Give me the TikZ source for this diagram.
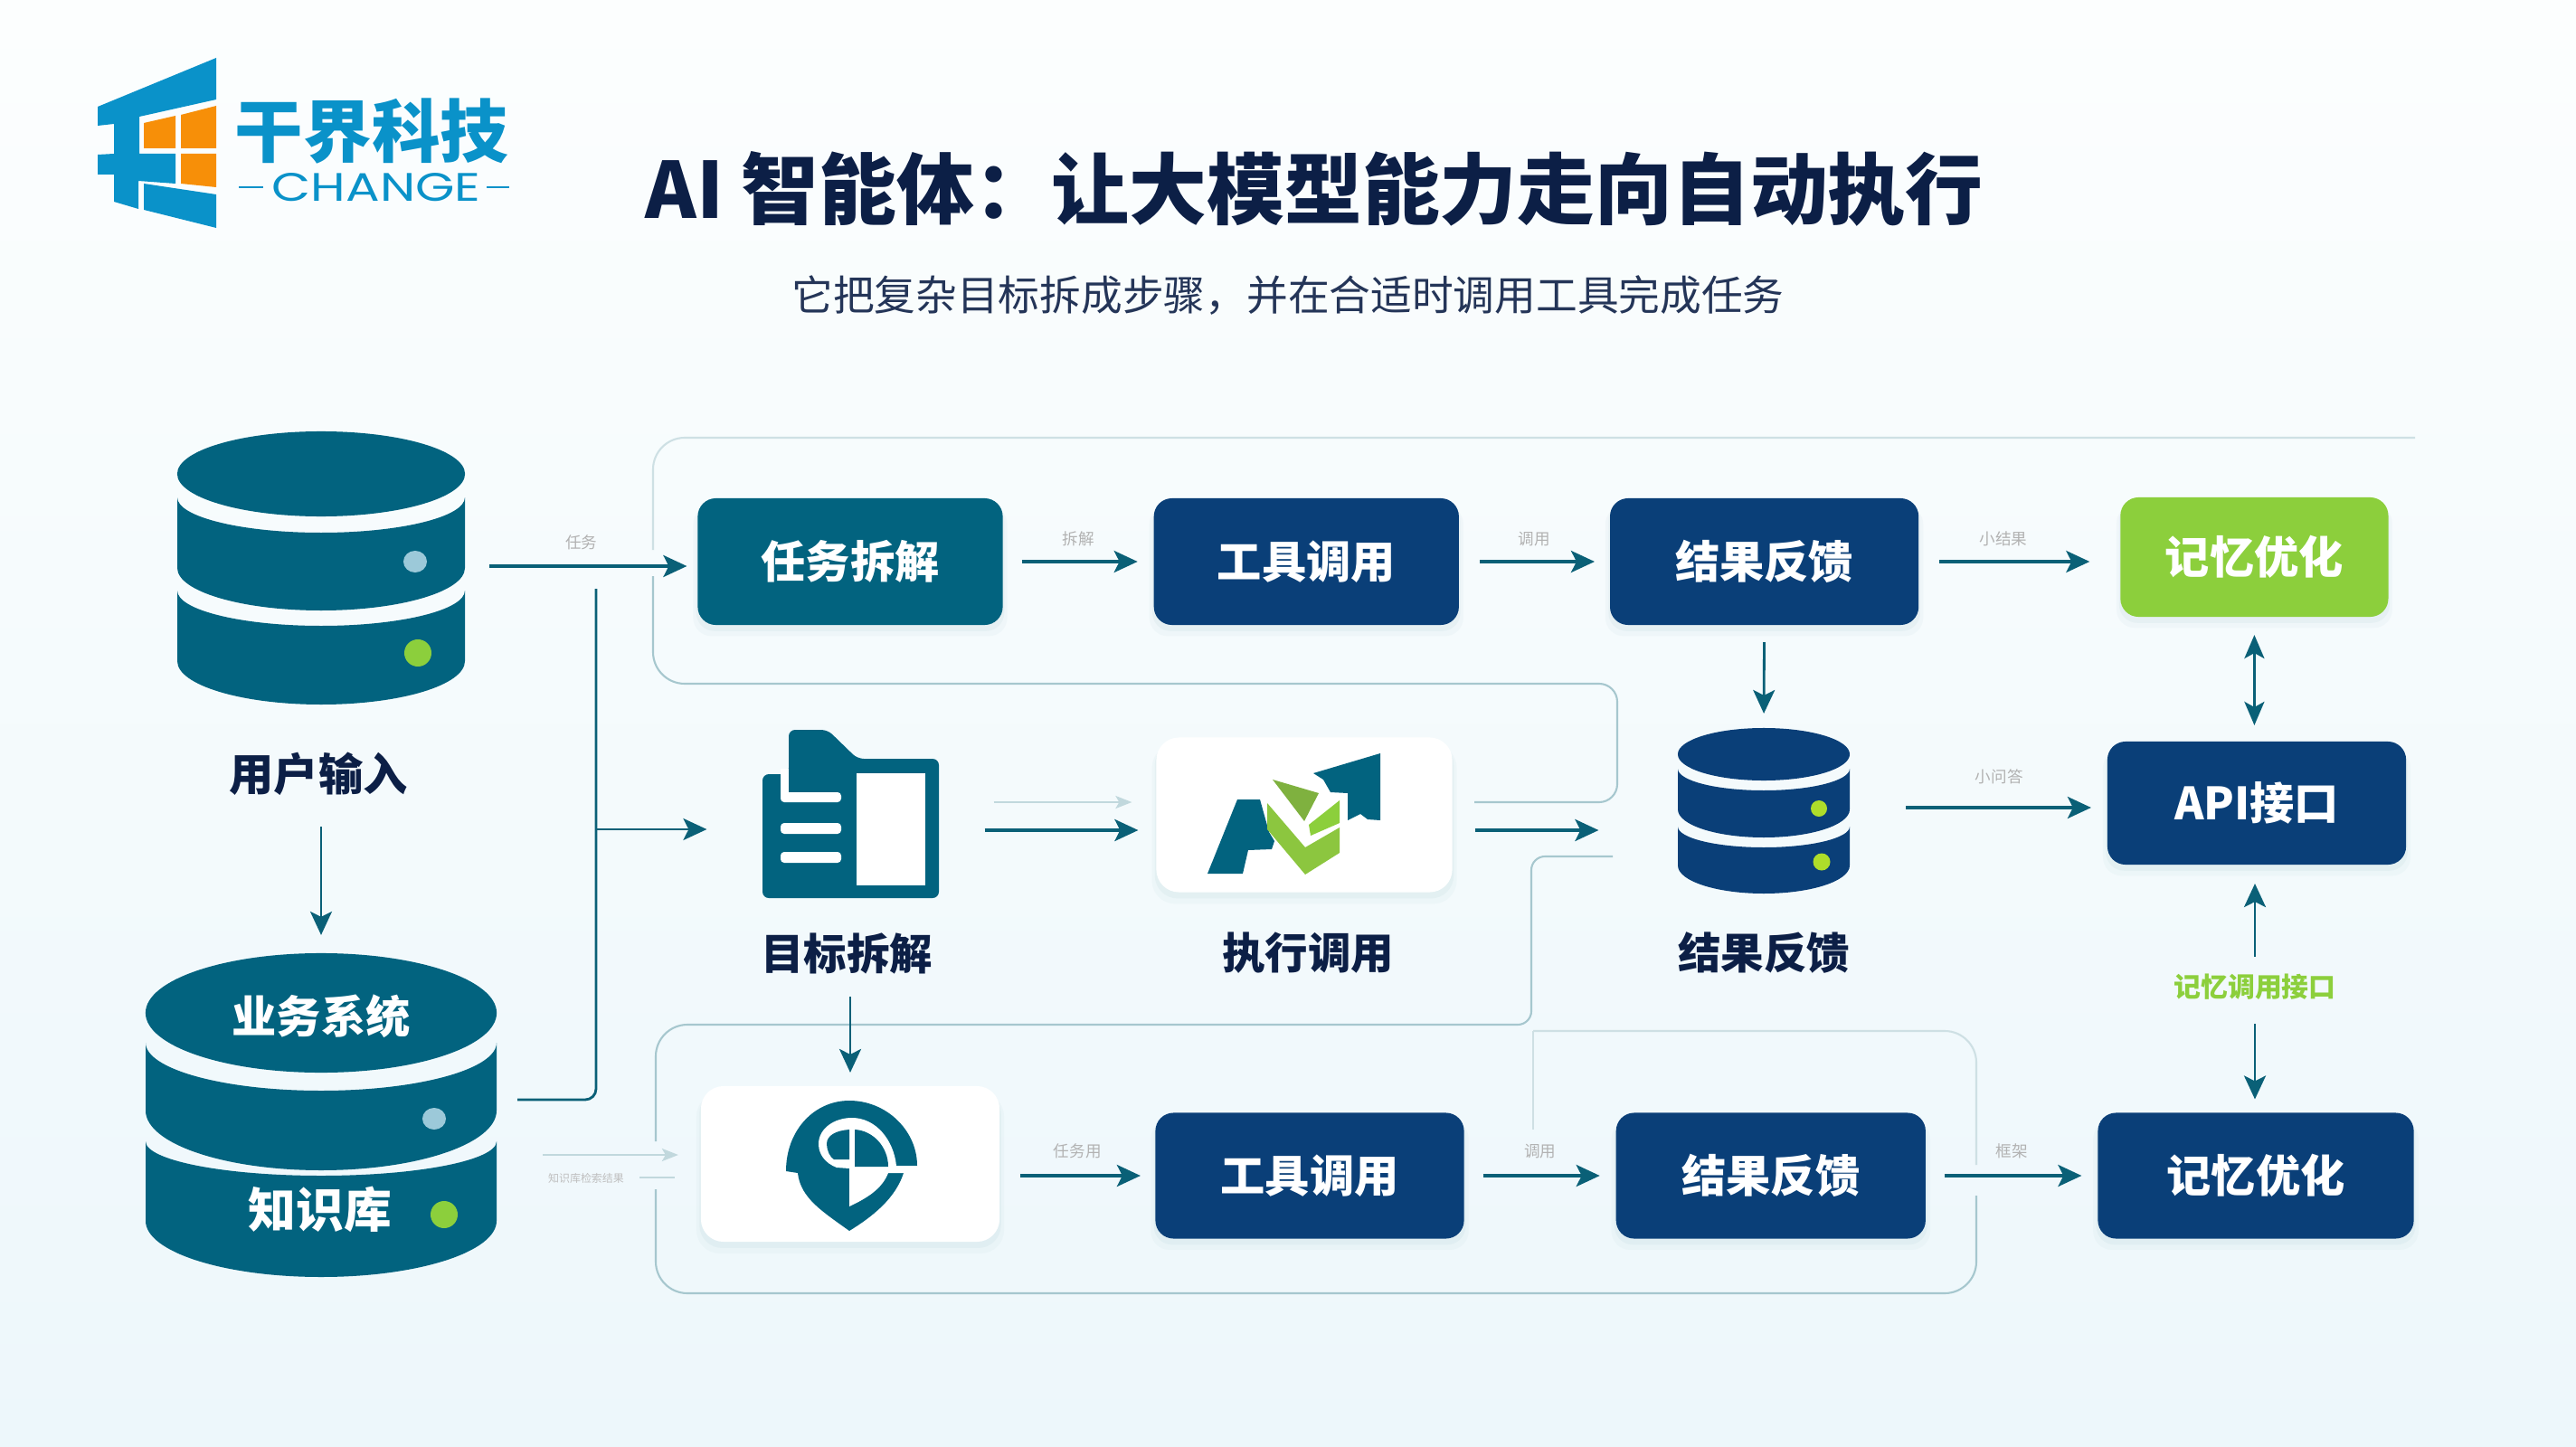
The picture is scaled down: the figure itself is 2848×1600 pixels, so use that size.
\documentclass[tikz,border=0pt]{standalone}
\usepackage{fontspec}
\setmainfont{Noto Sans CJK SC}
\newfontfamily\logofont[FakeStretch=1.27]{Poppins}
\usepackage{xcolor}
\usetikzlibrary{arrows.meta,positioning,calc,shadows}

\definecolor{tealc}{HTML}{02637F}
\definecolor{navyc}{HTML}{0A3F78}
\definecolor{limec}{HTML}{8CCF3C}
\definecolor{leafc}{HTML}{8CC63F}
\definecolor{mossc}{HTML}{7FB13F}
\definecolor{dotc}{HTML}{9CC9D9}
\definecolor{inkc}{HTML}{0C1F46}
\definecolor{wirec}{HTML}{0A6077}
\definecolor{panelc}{HTML}{A6C7CE}
\definecolor{logoc}{HTML}{0A92C9}
\definecolor{orangec}{HTML}{F78F08}
\definecolor{skytop}{HTML}{FCFEFE}
\definecolor{skymid}{HTML}{F8FCFE}
\definecolor{skybot}{HTML}{EDF7FB}

% one band of a database stack: colour, centre x, half width, top y, top bulge, bottom y, bottom bulge
\newcommand{\dbslice}[7]{
  \fill[#1] (#2-#3,#4) arc[start angle=180, end angle=360, x radius=#3*0.01cm, y radius=#5*0.01cm]
    -- (#2+#3,#6) arc[start angle=0, end angle=-180, x radius=#3*0.01cm, y radius=#7*0.01cm] -- cycle;
}

\begin{document}
\begin{tikzpicture}[
  x=0.01cm, y=-0.01cm,
  softshadow/.style={
    drop shadow={shadow xshift=0cm, shadow yshift=-0.1cm, shadow scale=1.03, fill=panelc, opacity=0.08},
    drop shadow={shadow xshift=0cm, shadow yshift=-0.06cm, shadow scale=1.01, fill=panelc, opacity=0.12}},
  boxn/.style={rectangle, fill=navyc, text=white, minimum width=3.37cm, minimum height=1.4cm,
               rounded corners=0.2cm, outer sep=0pt, inner sep=0pt, softshadow,
               font=\fontsize{14}{16}\selectfont\bfseries},
  card/.style={rectangle, fill=white, minimum width=3.3cm, minimum height=1.72cm,
               rounded corners=0.25cm, outer sep=0pt, softshadow},
  slot/.style={rectangle, outer sep=0pt, inner sep=0pt},
  capt/.style={text=inkc, font=\fontsize{13.5}{16}\selectfont\bfseries, inner sep=0pt},
  dbtext/.style={text=white, font=\fontsize{14}{16}\selectfont\bfseries, inner sep=0pt},
  lbl/.style={text=black!30, font=\fontsize{5}{6}\selectfont, inner sep=0pt},
  arr/.style={-{Stealth[length=0.26cm, width=0.24cm, inset=0.06cm]}, wirec, line width=1pt},
  darr/.style={{Stealth[length=0.26cm, width=0.22cm, inset=0.06cm]}-{Stealth[length=0.26cm, width=0.22cm, inset=0.06cm]},
               wirec, line width=0.8pt},
  farr/.style={-{Stealth[length=0.18cm, width=0.14cm, inset=0.04cm]}, panelc!70, line width=0.6pt},
  panel/.style={panelc, line width=0.6pt},
  faint/.style={panelc!55, line width=0.6pt},
]

% Background
\shade[top color=skytop, middle color=skymid, bottom color=skybot] (0,0) rectangle (2848,1600);
\useasboundingbox (0,0) rectangle (2848,1600);

% Logo
\fill[logoc] (239,64) -- (108,118) -- (108,139) -- (126,137) -- (126,170) -- (108,171) -- (108,193)
  -- (126,193) -- (126,223) -- (153,231) -- (153,200) -- (194,203) -- (194,170) -- (154,170)
  -- (154,129) -- (239,110) -- cycle;
\fill[logoc] (159,203) -- (239,215) -- (239,252) -- (159,232) -- cycle;
\fill[orangec] (159,136) -- (194,128) -- (194,164) -- (159,164) -- cycle;
\fill[orangec] (200,127) -- (239,117) -- (239,164) -- (200,164) -- cycle;
\fill[orangec] (200,170) -- (239,170) -- (239,207) -- (200,203) -- cycle;
\node[text=logoc, font=\fontsize{21.5}{24}\selectfont\bfseries, inner sep=0pt] (brand) at (411,145) {干界科技};
\node[text=logoc, font=\logofont\fontsize{12.5}{14}\selectfont, inner sep=0pt] (brandsub) at (416,207) {CHANGE};
\draw[logoc, line width=0.7pt] (brandsub.west) ++(-9,0) -- ++(-27,0);
\draw[logoc, line width=0.7pt] (brandsub.east) ++(6,0) -- ++(25,0);

% Title
\node[text=inkc, font=\fontsize{24.4}{28}\selectfont\bfseries, inner sep=0pt] (title) at (1453,209) {AI 智能体：让大模型能力走向自动执行};
\node[text=inkc!90, font=\fontsize{13}{16}\selectfont, inner sep=0pt] (subtitle) at (1424,327) {它把复杂目标拆成步骤，并在合适时调用工具完成任务};

% Panel outlines
\draw[faint, rounded corners=0.35cm] (722,608) -- (722,484) -- (2670,484);
\draw[panel, rounded corners=0.35cm] (722,637) -- (722,756) [rounded corners=0.2cm] -- (1788,756) -- (1788,887) -- (1630,887);
\draw[panel, rounded corners=0.3cm] (1783,947) [rounded corners=0.15cm] -- (1693,947) -- (1693,1133) [rounded corners=0.35cm] -- (725,1133) -- (725,1262);
\draw[panel, rounded corners=0.35cm] (725,1315) -- (725,1430) -- (2185,1430) -- (2185,1322);
\draw[faint, rounded corners=0.35cm] (2185,1288) -- (2185,1140) -- (1695,1140);
\draw[faint] (1695,1140) -- (1695,1249);

% Database slots
\node[slot, minimum width=3.18cm, minimum height=3.0cm] (dbuser) at (355,626) {};
\node[slot, minimum width=3.88cm, minimum height=3.58cm] (dbkb) at (355,1233) {};
\node[slot, minimum width=1.9cm, minimum height=1.83cm] (dbres) at (1950,893) {};

% User input stack
\fill[tealc] (355,524) ellipse[x radius=1.59cm, y radius=0.47cm];
\dbslice{tealc}{355}{159}{550}{39}{628}{47}
\dbslice{tealc}{355}{159}{653}{39}{731}{48}
\fill[dotc] (459,621) ellipse[x radius=0.13cm, y radius=0.12cm];
\fill[limec] (462,722) circle[radius=0.15cm];
\node[capt, font=\fontsize{14}{16}\selectfont\bfseries] (userin) at (352,856) {用户输入};

% Business system stack
\fill[tealc] (355,1120) ellipse[x radius=1.94cm, y radius=0.66cm];
\dbslice{tealc}{355}{194}{1153}{53}{1228}{66}
\dbslice{tealc}{355}{194}{1262}{38}{1350}{62}
\fill[dotc] (480,1237) ellipse[x radius=0.13cm, y radius=0.12cm];
\fill[limec] (491,1343) circle[radius=0.15cm];
\node[dbtext] (biz) at (355,1124) {业务系统};
\node[dbtext, font=\fontsize{15}{17}\selectfont\bfseries] (know) at (354,1337) {知识库};

% Result stack
\fill[navyc] (1950,834) ellipse[x radius=0.95cm, y radius=0.29cm];
\dbslice{navyc}{1950}{95}{850}{24}{895}{31}
\dbslice{navyc}{1950}{95}{914}{23}{957}{31}
\fill[limec!70!yellow] (2011,894) circle[radius=0.09cm];
\fill[limec!70!yellow] (2014,953) circle[radius=0.095cm];
\node[capt] (rescap) at (1950,1054) {结果反馈};

% Top row
\node[boxn, fill=tealc] (task) at (940,621) {任务拆解};
\node[boxn, right=1.67cm of task] (tool) {工具调用};
\node[boxn, right=1.67cm of tool, minimum width=3.41cm] (res) {结果反馈};
\node[boxn, fill=limec, right=2.23cm of res, yshift=0.05cm, minimum width=2.96cm, minimum height=1.32cm] (mem) {记忆优化};

% Right column
\node[boxn, minimum width=3.3cm, minimum height=1.36cm] (api) at (2495,888) {API接口};
\node[boxn, minimum width=3.49cm, minimum height=1.39cm] (memb) at (2494,1300) {记忆优化};
\node[text=limec, font=\fontsize{8.5}{10}\selectfont\bfseries, inner sep=0pt] (memlink) at (2493,1091) {记忆调用接口};

% Middle row
\node[slot, minimum width=1.95cm, minimum height=1.86cm] (doc) at (940,900) {};
\node[card, minimum width=3.27cm, minimum height=1.71cm] (exec) at (1442,901) {};
\node[capt] (doccap) at (936,1054) {目标拆解};
\node[capt] (execcap) at (1446,1054) {执行调用};

% Bottom row
\node[card] (plan) at (940,1287) {};
\node[boxn, minimum width=3.41cm, minimum height=1.39cm] (toolb) at (1448,1300) {工具调用};
\node[boxn, right=1.68cm of toolb, minimum width=3.42cm, minimum height=1.39cm] (resb) {结果反馈};

% Document icon
\fill[tealc, rounded corners=0.07cm] (872,807) -- (915,807) -- (948,839) -- (1038,839) -- (1038,993)
  -- (843,993) -- (843,856) -- (872,856) -- cycle;
\fill[white] (947,855) rectangle (1023,979);
\fill[white, rounded corners=0.04cm] (863,876) rectangle (930,887);
\fill[white, rounded corners=0.04cm] (863,910) rectangle (930,922);
\fill[white, rounded corners=0.04cm] (863,942) rectangle (930,954);
\fill[white] (863,850) rectangle (872,880);

% Execute icon
\fill[tealc] (1335,966) -- (1368,884) -- (1393,884) -- (1403,920) -- (1409,930) -- (1406,939)
  -- (1380,940) -- (1374,966) -- cycle;
\fill[leafc] (1401,888) -- (1443,937) -- (1481,915) -- (1481,943) -- (1443,967) -- (1401,917) -- cycle;
\fill[mossc] (1407,862) -- (1458,877) -- (1442,908) -- cycle;
\fill[limec] (1481,885) -- (1481,910) -- (1449,924) -- (1447,912) -- cycle;
\fill[tealc] (1452,855) -- (1526,833) -- (1526,907) -- (1512,906) -- (1504,900) -- (1490,907)
  -- (1490,877) -- (1471,876) -- (1463,862) -- cycle;

% Pin icon
\fill[tealc] (869,1295) .. controls (869,1250) and (900,1217) .. (939,1217)
  .. controls (980,1217) and (1014,1250) .. (1014,1289) -- (999,1297)
  .. controls (990,1325) and (965,1345) .. (939,1361)
  .. controls (910,1340) and (885,1325) .. (882,1297) -- cycle;
\fill[white] (905,1265) .. controls (905,1248) and (922,1236) .. (942,1236)
  .. controls (968,1236) and (988,1260) .. (991,1289) -- (1014,1289) -- (1014,1297) -- (982,1297)
  .. controls (975,1315) and (958,1325) .. (939,1334) -- (939,1292) -- (925,1291)
  .. controls (912,1286) and (905,1276) .. cycle;
\fill[tealc] (939,1249) .. controls (925,1250) and (914,1255) .. (914,1265)
  .. controls (914,1272) and (918,1280) .. (922,1282) -- (939,1282) -- cycle;
\fill[tealc] (945,1249) .. controls (965,1250) and (982,1268) .. (982,1290) -- (945,1290) -- cycle;

% Levels for the wires
\coordinate (rowtwo) at (0,918);
\coordinate (rowtwoa) at (0,887);
\coordinate (kbrow) at (0,1277);
\coordinate (kbnote) at (0,1302);
\coordinate (trunkturn) at (0,1216);
\coordinate (trunktop) at (659,651);
\coordinate (trunkbr) at (659,917);

% Arrows: inputs
\draw[arr, shorten <=0.27cm, shorten >=0.12cm] (dbuser.east) -- node[lbl, above=0.16cm]{任务} (dbuser.east -| task.west);
\draw[arr, line width=0.8pt, shorten >=0.2cm, shorten <=0.58cm] (userin -| dbkb.north) -- (dbkb.north);
\draw[wirec, line width=0.8pt, rounded corners=0.12cm, shorten <=0.23cm] (dbkb.east |- trunkturn) -| (trunktop);
\draw[arr, line width=0.8pt, shorten >=0.61cm] (trunkbr) -- (doc.west |- trunkbr);
\draw[farr, shorten <=0.51cm, shorten >=0.25cm] (dbkb.east |- kbrow) -- (plan.west |- kbrow);
\draw[panelc!70, line width=0.6pt, shorten >=0.29cm, shorten <=1.58cm] (dbkb.east |- kbnote) -- (plan.west |- kbnote);
\node[lbl, text=black!25, font=\fontsize{3.4}{4}\selectfont] (kbnotel) at (648,1303) {知识库检索结果};

% Arrows: top row
\draw[arr, shorten <=0.21cm, shorten >=0.18cm] (task) -- node[lbl, above=0.15cm]{拆解} (tool);
\draw[arr, shorten <=0.23cm, shorten >=0.17cm] (tool) -- node[lbl, above=0.15cm]{调用} (res);
\draw[arr, shorten <=0.23cm, shorten >=0.34cm] (res.east) -- node[lbl, above=0.15cm, pos=0.42]{小结果} (res.east -| mem.west);
\draw[arr, line width=0.8pt, shorten <=0.19cm, shorten >=0.125cm] (res.south) -- (dbres.north);
\draw[darr, shorten <=0.2cm, shorten >=0.18cm] (mem.south) -- (mem.south |- api.north);

% Arrows: middle row
\draw[farr, shorten <=0.61cm, shorten >=0.27cm] (doc.east |- rowtwoa) -- (exec.west |- rowtwoa);
\draw[arr, shorten <=0.51cm, shorten >=0.2cm] (doc.east |- rowtwo) -- (exec.west |- rowtwo);
\draw[arr, shorten <=0.25cm, shorten >=0.875cm] (exec.east |- rowtwo) -- (dbres.west |- rowtwo);
\draw[arr, shorten <=0.62cm, shorten >=0.18cm] (dbres.east) -- node[lbl, above=0.24cm, pos=0.58]{小问答} (dbres.east -| api.west);
\draw[arr, line width=0.8pt, shorten <=0.25cm, shorten >=0.15cm] (doccap.south -| plan.north) -- (plan.north);

% Arrows: memory link
\draw[arr, line width=0.8pt, shorten <=0.18cm, shorten >=0.21cm] (memlink) -- (memlink |- api.south);
\draw[arr, line width=0.8pt, shorten <=0.26cm, shorten >=0.15cm] (memlink) -- (memlink |- memb.north);

% Arrows: bottom row
\draw[arr, shorten <=0.23cm, shorten >=0.165cm] (plan.east |- toolb) -- node[lbl, above=0.17cm]{任务用} (toolb.west);
\draw[arr, shorten <=0.21cm, shorten >=0.18cm] (toolb) -- node[lbl, above=0.17cm]{调用} (resb);
\draw[arr, shorten <=0.21cm, shorten >=0.18cm] (resb) -- node[lbl, above=0.17cm]{框架} (memb);

\end{tikzpicture}
\end{document}
